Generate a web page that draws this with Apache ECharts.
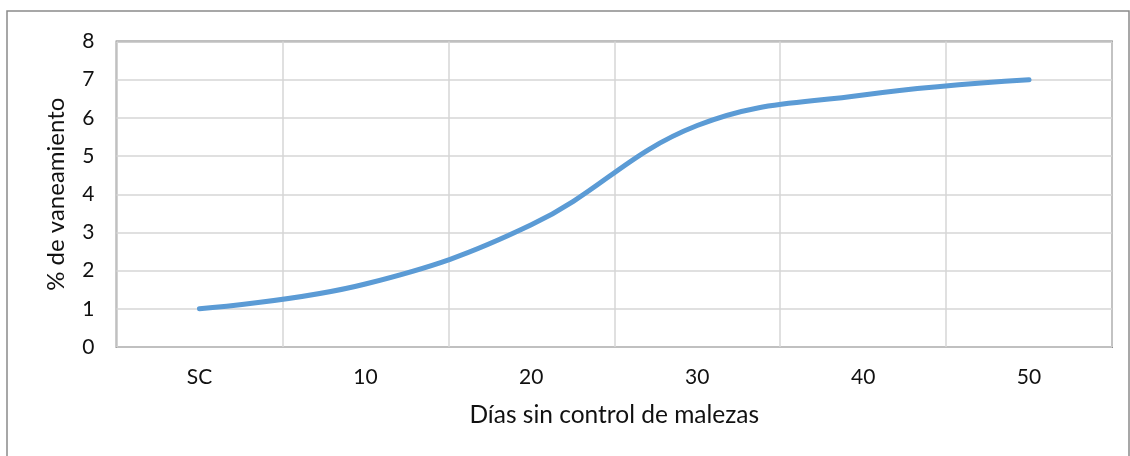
<!DOCTYPE html>
<html>
<head>
<meta charset="utf-8">
<script src="https://cdn.jsdelivr.net/npm/echarts@6/dist/echarts.min.js"></script>
<style>
  html, body { margin: 0; padding: 0; background: #fff; }
  #chart { width: 1130px; height: 456px; }
</style>
</head>
<body>
<div id="chart"></div>
<script>
// Días sin control de malezas vs. % de vaneamiento
const categories = ['SC', '10', '20', '30', '40', '50'];
const vaneamiento = [1, 1.65, 3.2, 5.8, 6.6, 7];
const yTicks = { min: 0, max: 8, interval: 1 };

const FONT = 'Lato';
const chart = echarts.init(document.getElementById('chart'));

chart.setOption({
  animation: false,
  backgroundColor: '#ffffff',
  graphic: [{
    type: 'rect',
    shape: { x: 7, y: 11, width: 1122, height: 480 },
    style: { fill: 'none', stroke: '#8a8a8a', lineWidth: 1.5 },
    silent: true
  }],
  grid: {
    left: 116.5, right: 18, top: 41.5, bottom: 109,
    show: true, borderColor: '#808080', borderWidth: 1.8
  },
  xAxis: {
    type: 'category',
    data: categories,
    boundaryGap: true,
    name: 'Días sin control de malezas',
    nameLocation: 'middle',
    nameGap: 56,
    nameTextStyle: { fontFamily: FONT, fontSize: 24.5, color: '#111' },
    axisLine: { show: false },
    axisTick: { show: false },
    axisLabel: { fontFamily: FONT, fontSize: 21, color: '#111', margin: 20 },
    splitLine: { show: true, lineStyle: { color: '#d6d6d6', width: 1.5 } }
  },
  yAxis: {
    type: 'value',
    min: yTicks.min, max: yTicks.max, interval: yTicks.interval,
    name: '% de vaneamiento',
    nameLocation: 'middle',
    nameGap: 48,
    nameTextStyle: { fontFamily: FONT, fontSize: 24, color: '#111' },
    axisLine: { show: false },
    axisTick: { show: false },
    axisLabel: { fontFamily: FONT, fontSize: 21, color: '#111', margin: 22 },
    splitLine: { show: true, lineStyle: { color: '#d6d6d6', width: 1.5 } }
  },
  series: [{
    type: 'line',
    data: vaneamiento,
    smooth: 0.4,
    symbol: 'none',
    lineStyle: { color: '#5b9bd5', width: 5, cap: 'round' }
  }]
});
</script>
</body>
</html>
